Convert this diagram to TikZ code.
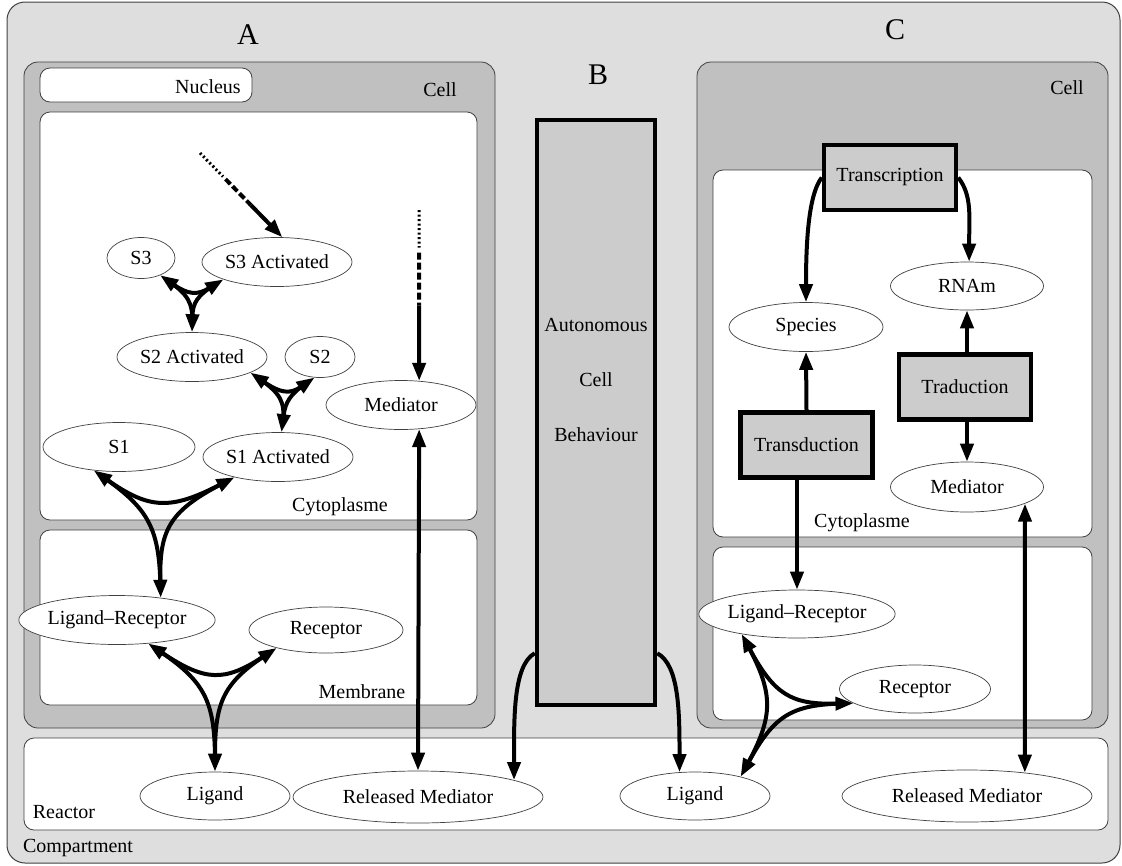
\documentclass[tikz,border=0pt]{standalone}
\usepackage{fontspec}
\setmainfont{Liberation Serif}
\usetikzlibrary{shapes.geometric, arrows.meta, calc}
\definecolor{compartGray}{RGB}{222,222,222}
\definecolor{cellGray}{RGB}{192,192,192}
\definecolor{procGray}{RGB}{204,204,204}
\definecolor{edgeGray}{RGB}{64,64,64}
\newcommand{\labelSize}[0]{\fontsize{20}{24}\selectfont}
\newcommand{\letterSize}[0]{\fontsize{30}{34}\selectfont}
\newcommand{\reacShrink}[0]{0.85}
% three curved arrows meeting in a small triangle (reaction)
\newcommand{\threeWay}[4]{%
  \draw[reac, <->] (#1) .. controls ($(#1)!\reacShrink!(#4)$) and ($(#2)!\reacShrink!(#4)$) .. (#2);
  \draw[reac, ->, shorten <=10pt] (#2) .. controls ($(#2)!\reacShrink!(#4)$) and ($(#3)!\reacShrink!(#4)$) .. (#3);
  \draw[reac, shorten <=10pt, shorten >=10pt] (#3) .. controls ($(#3)!\reacShrink!(#4)$) and ($(#1)!\reacShrink!(#4)$) .. (#1);
}

\begin{document}
\begin{tikzpicture}[x=1pt, y=-1pt]
  \tikzset{
    compart/.style={draw=edgeGray, line width=1pt, rounded corners=18pt},
    zone/.style={draw=edgeGray, line width=0.8pt, rounded corners=10pt, fill=white},
    tag/.style={font=\labelSize, inner sep=0pt},
    bigTag/.style={font=\letterSize, inner sep=0pt},
    molecule/.style={ellipse, draw=edgeGray, line width=0.7pt, fill=white, inner sep=0pt,
      minimum width=150pt, minimum height=49pt, font=\labelSize},
    procBox/.style={rectangle, draw=black, line width=4.5pt, fill=procGray,
      minimum width=132pt, minimum height=65pt, font=\labelSize},
    reac/.style={line width=4pt, >={Triangle[length=18pt,width=13pt]}},
    edgeArrow/.style={line width=4pt, ->, >={Triangle[length=18pt,width=13pt]}},
  }
  \useasboundingbox (0,0) rectangle (1122,865);

  % containers
  \draw[compart, fill=compartGray] (7,2) rectangle (1120,863);
  \node[tag] (compartLbl) at (78,848) {Compartment};
  \draw[zone] (24,738) rectangle (1108,830);
  \node[tag] (reactorLbl) at (64,812) {Reactor};

  \draw[zone, fill=cellGray, rounded corners=14pt] (24,62) rectangle (495,728);
  \node[tag] (cellALbl) at (440,90) {Cell};
  \draw[zone] (40,68) rectangle (252,102);
  \node[tag] (nucleusLbl) at (208,87) {Nucleus};
  \draw[zone] (40,112) rectangle (477,520);
  \node[tag] (cytoALbl) at (340,507) {Cytoplasme};
  \draw[zone] (40,530) rectangle (477,705);
  \node[tag] (membALbl) at (362,692) {Membrane};

  \draw[zone, fill=cellGray, rounded corners=14pt] (697,62) rectangle (1108,728);
  \node[tag] (cellCLbl) at (1067,88) {Cell};
  \draw[zone] (713,170) rectangle (1092,537);
  \node[tag] (cytoCLbl) at (862,523) {Cytoplasme};
  \draw[zone] (713,547) rectangle (1092,720);

  \node[bigTag] (letterA) at (248,35) {A};
  \node[bigTag] (letterB) at (598,75) {B};
  \node[bigTag] (letterC) at (895,30) {C};

  % B
  \node[procBox, minimum width=118pt, minimum height=585pt] (bbox) at (596,412.5) {};
  \node[tag, align=center, font=\fontsize{20}{55}\selectfont] (bText) at (596,380)
    {Autonomous\\Cell\\Behaviour};

  % A
  \node[molecule, minimum width=68pt, minimum height=41pt] (s3) at (141,258) {S3};
  \node[molecule] (s3a) at (277,262) {S3 Activated};
  \node[molecule] (s2a) at (192,357) {S2 Activated};
  \node[molecule, minimum width=70pt, minimum height=41pt] (s2) at (320,357) {S2};
  \node[molecule] (medA) at (401,405) {Mediator};
  \node[molecule, minimum width=152pt] (s1) at (119,447) {S1};
  \node[molecule] (s1a) at (278,457) {S1 Activated};
  \node[molecule, minimum width=152pt] (lrA) at (117,620) {Ligand--Receptor};
  \node[molecule, minimum width=154pt, minimum height=46pt] (recA) at (326,630) {Receptor};
  \node[molecule, minimum height=48pt] (ligA) at (215,796) {Ligand};
  \node[molecule, minimum width=250pt, minimum height=52pt] (relA) at (418,797) {Released Mediator};

  % C
  \node[procBox] (trc) at (890,177.5) {Transcription};
  \node[molecule, minimum width=154pt] (species) at (806,327) {Species};
  \node[molecule, minimum width=153pt, minimum height=48pt] (rnam) at (967,286) {RNAm};
  \node[procBox] (tra) at (965,387) {Traduction};
  \node[procBox] (trd) at (806.5,445) {Transduction};
  \node[molecule, minimum width=153pt, minimum height=50pt] (medC) at (967,487) {Mediator};
  \node[molecule, minimum height=48pt] (lrC) at (797,614) {Ligand--Receptor};
  \node[molecule, minimum width=151pt, minimum height=48pt] (recC) at (915,689) {Receptor};
  \node[molecule, minimum height=48pt] (ligC) at (695,796) {Ligand};
  \node[molecule, minimum width=250pt, minimum height=52pt] (relC) at (967,796) {Released Mediator};

  % reaction centres
  \coordinate (rxS3) at (193,298);
  \coordinate (rxS2) at (286,397);
  \coordinate (rxS1) at (159,516);
  \coordinate (rxLrA) at (215,688);
  \coordinate (rxLrC) at (780,705);
  \threeWay{s3.-42}{s3a.198}{s2a.north}{rxS3}
  \threeWay{s2a.-15}{s2.-105}{s1a.82}{rxS2}
  \threeWay{s1.-137}{s1a.-155}{lrA.27}{rxS1}
  \threeWay{lrA.-37}{recA.-160}{ligA.north}{rxLrA}
  \threeWay{lrC.-160}{recC.-167}{ligC.23}{rxLrC}

  % incoming signals
  \coordinate (feedS3) at (200,153);
  \draw[line width=3pt, dash pattern=on 2pt off 2.5pt] (feedS3) -- ($(feedS3)!0.28!(s3a.78)$);
  \draw[line width=4pt, dash pattern=on 7pt off 3pt] ($(feedS3)!0.31!(s3a.78)$) -- ($(feedS3)!0.62!(s3a.78)$);
  \draw[edgeArrow] ($(feedS3)!0.62!(s3a.78)$) -- (s3a.78);
  \coordinate (feedMed) at (419,210);
  \draw[line width=3pt, dash pattern=on 2pt off 2.5pt] (feedMed) -- ($(feedMed)!0.22!(medA.53)$);
  \draw[line width=4pt, dash pattern=on 7pt off 3pt] ($(feedMed)!0.25!(medA.53)$) -- ($(feedMed)!0.56!(medA.53)$);
  \draw[edgeArrow] ($(feedMed)!0.56!(medA.53)$) -- (medA.53);

  \draw[edgeArrow, <->] (medA.-53) -- (relA.north);
  \draw[edgeArrow, <->] (medC.-16) -- (relC.22);

  % C connectors
  \draw[edgeArrow] (trc.west) .. controls +(-14,18) and ($(species.north)+(0,-55)$) .. (species.north);
  \draw[edgeArrow] (trc.east) .. controls +(14,18) and ($(rnam.85)+(0,-45)$) .. (rnam.85);
  \draw[edgeArrow] (trd.north) -- (species.south);
  \draw[edgeArrow] (tra.north -| rnam.south) -- (rnam.south);
  \draw[edgeArrow] (tra.south -| medC.north) -- (medC.north);
  \draw[edgeArrow] (trd.south -| lrC.north) -- (lrC.north);

  % from B to the reactor
  \draw[edgeArrow] ([yshift=54pt]bbox.south west) .. controls +(-22,12) and ($(relA.10)+(0,-60)$) .. (relA.10);
  \draw[edgeArrow] ([yshift=54pt]bbox.south east) .. controls +(22,12) and ($(ligC.123)+(0,-60)$) .. (ligC.123);
\end{tikzpicture}
\end{document}
